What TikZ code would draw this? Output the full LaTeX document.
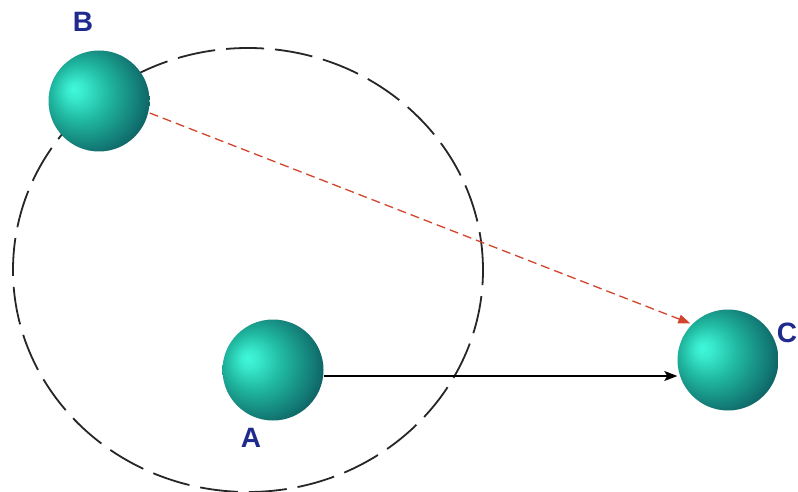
\documentclass[tikz,border=0pt]{standalone}
\usepackage{fontspec}
\setmainfont{Liberation Sans}
\usetikzlibrary{arrows.meta,calc}
\definecolor{sphhi}{HTML}{40F8DA}
\definecolor{sphmid}{HTML}{20B8A0}
\definecolor{sphdark}{HTML}{137C76}
\definecolor{sphedge}{HTML}{0B5058}
\definecolor{lblblue}{HTML}{1E2A8E}
\definecolor{redarrow}{HTML}{D2442C}
\pgfdeclareradialshading{sph}{\pgfpoint{-13bp}{6bp}}{color(0bp)=(sphhi); color(4bp)=(sphhi!80!sphmid); color(14bp)=(sphmid); color(26bp)=(sphdark); color(34bp)=(sphedge); color(50bp)=(sphedge)}
\tikzset{
  sphere/.style={circle, minimum size=101pt, inner sep=0pt, shading=sph},
  lbl/.style={text=lblblue, font=\fontsize{28}{28}\selectfont\bfseries, inner sep=0pt},
  orbit/.style={draw=black!85, line width=1.8pt, dash pattern=on 38pt off 11pt},
  arrowblk/.style={draw=black, line width=1.4pt, -{Stealth[length=13pt,width=10pt,inset=3pt]}},
  arrowred/.style={draw=redarrow, line width=1.3pt, dash pattern=on 9pt off 5pt, -{Triangle[length=12pt,width=9pt]}, shorten >=2pt}
}
\begin{document}
\begin{tikzpicture}[x=1pt,y=-1pt]
\useasboundingbox (0,0) rectangle (798,492);
\fill[white] (0,0) rectangle (798,492);
\draw[orbit] (248,270) ellipse [x radius=235pt, y radius=222pt];
\node[sphere] (B) at (99,101) {};
\node[sphere] (A) at (273,370) {};
\node[sphere] (C) at (728,360) {};
\node[lbl] (lB) at (83,22) {B};
\node[lbl] (lA) at (251,438) {A};
\node[lbl] (lC) at (787,333) {C};
\draw[arrowblk] ([yshift=-6pt]A.east) -- ([yshift=-6pt]A.east -| C.west);
\draw[arrowred] ([yshift=-12pt]B.east) -- (C.north west);
\end{tikzpicture}
\end{document}
